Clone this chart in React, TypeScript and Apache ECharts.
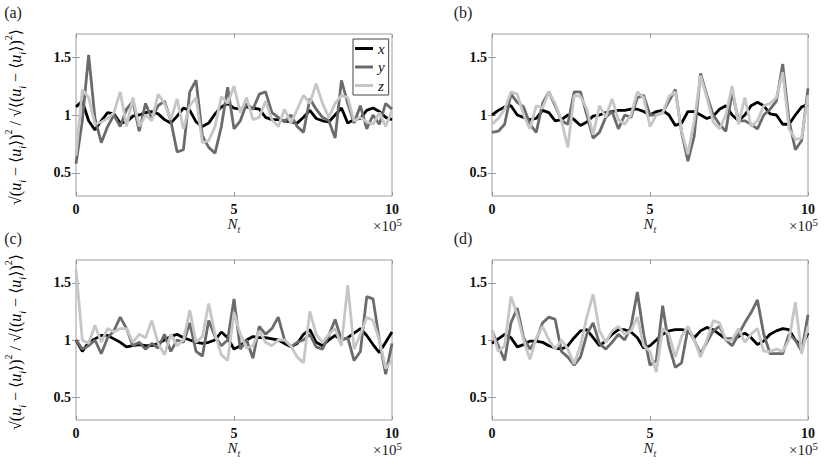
import React, { useEffect, useRef } from "react";
import * as echarts from "echarts";

// N_t sample positions (×10^5)
const NT = [
  0, 0.2, 0.4, 0.6, 0.8, 1.0, 1.2, 1.4, 1.6, 1.8,
  2.0, 2.2, 2.4, 2.6, 2.8, 3.0, 3.2, 3.4, 3.6, 3.8,
  4.0, 4.2, 4.4, 4.6, 4.8, 5.0, 5.2, 5.4, 5.6, 5.8,
  6.0, 6.2, 6.4, 6.6, 6.8, 7.0, 7.2, 7.4, 7.6, 7.8,
  8.0, 8.2, 8.4, 8.6, 8.8, 9.0, 9.2, 9.4, 9.6, 9.8,
  10,
];

// Panel (a)
const A_X = [
  1.07, 1.12, 0.95, 0.87, 0.95, 1.02, 1.01, 0.93, 0.94, 0.99,
  1.0, 1.02, 1.03, 1.01, 0.96, 0.93, 0.99, 1.06, 1.04, 0.94,
  0.9, 0.93, 1.01, 1.07, 1.1, 1.06, 1.05, 1.07, 1.06, 1.05,
  0.98, 0.96, 0.96, 0.95, 0.94, 0.93, 0.98, 1.04, 0.97, 0.95,
  0.94, 1.0, 1.06, 0.93, 0.96, 0.97, 1.04, 1.06, 1.03, 0.98,
  0.96,
];
const A_Y = [
  0.58, 0.95, 1.52, 0.97, 0.76, 0.9, 1.0, 0.9, 1.05, 1.12,
  0.86, 1.1, 0.97, 1.08, 1.12, 0.95, 0.68, 0.7, 1.2, 1.3,
  0.82, 0.72, 0.67, 0.9, 1.24, 0.88, 0.95, 1.1, 1.05, 1.18,
  1.2, 1.02, 0.98, 0.94, 1.0, 0.9, 0.85, 1.14, 1.05, 0.98,
  0.95, 0.8, 1.3, 1.1, 0.93, 1.08, 0.88, 1.0, 0.92, 1.1,
  1.05,
];
const A_Z = [
  0.65, 1.22, 1.15, 0.92, 0.94, 0.97, 1.02, 1.2, 0.9, 1.15,
  0.9, 1.0, 0.95, 1.18, 1.1, 0.96, 1.14, 0.88, 1.08, 1.15,
  0.76, 0.78, 0.9, 1.16, 1.1, 1.25, 1.02, 1.15, 0.96, 0.98,
  1.12, 0.96, 0.9, 1.05, 0.93, 1.05, 1.17, 1.1, 1.27, 1.1,
  0.98, 1.1, 1.17, 1.15, 0.95, 0.98, 0.94, 0.92, 1.02, 0.9,
  1.04,
];

// Panel (b)
const B_X = [
  1.0, 1.04, 1.07, 1.08, 1.0, 0.98, 0.96, 0.97, 1.04, 1.02,
  0.95, 0.96, 1.0, 0.96, 0.91, 0.94, 0.99, 1.0, 1.02, 1.03,
  1.04, 1.04, 1.05, 1.05, 1.03, 1.0, 1.03, 1.04, 1.0, 0.91,
  0.93, 1.03, 1.03, 1.0, 0.97, 0.99, 1.05, 1.08, 1.0, 0.95,
  1.0, 1.08, 1.11, 1.08, 1.01, 1.0, 0.92, 0.92, 1.0, 1.07,
  1.09,
];
const B_Y = [
  0.85, 0.86, 0.92, 1.18, 1.11, 1.07, 0.92, 0.85, 1.1, 1.2,
  1.08, 0.95, 0.92, 1.2, 1.2, 1.0, 0.8, 0.85, 0.98, 1.03,
  0.88, 1.0, 0.98, 1.15, 1.17, 1.0, 1.0, 1.02, 1.12, 1.22,
  0.85, 0.6, 0.82, 1.36, 1.17, 1.0, 0.92, 0.86, 1.2, 0.95,
  0.95, 0.92, 0.88, 1.0, 1.05, 1.12, 1.44, 0.95, 0.7, 0.78,
  1.23,
];
const B_Z = [
  0.92, 0.97, 1.05, 1.2, 1.18, 1.0, 0.88, 1.08, 1.06, 1.2,
  1.1, 0.95, 0.72, 1.17, 1.16, 1.05, 0.83, 1.08, 0.98, 1.14,
  0.96, 0.92, 1.0, 1.2, 1.15, 0.9, 1.0, 1.02, 1.16, 1.2,
  0.86, 0.66, 0.95, 1.34, 1.15, 0.94, 0.88, 1.0, 1.25, 0.92,
  1.15, 0.9, 0.95, 1.08, 1.1, 1.15, 1.37, 0.88, 0.79, 0.8,
  1.17,
];

// Panel (c)
const C_X = [
  1.0, 0.9, 0.98, 1.01, 1.04, 1.04, 1.01, 0.98, 0.94, 0.95,
  0.96, 0.95, 0.95, 0.97, 1.0, 1.03, 1.05, 1.02, 1.0, 0.98,
  0.97, 0.98, 1.0, 1.07, 1.02, 0.92, 0.95, 1.0, 1.03, 1.02,
  1.02, 1.01, 1.0, 0.97, 0.94, 0.97, 1.05, 1.09, 0.98, 0.95,
  1.0, 1.04, 1.0, 1.02, 1.06, 1.1, 1.04, 0.96, 0.89, 0.98,
  1.07,
];
const C_Y = [
  1.0, 0.92, 0.95, 1.0, 0.88, 1.02, 1.08, 1.2, 1.1, 0.95,
  0.98, 0.92, 0.97, 0.93, 1.05, 0.9, 1.0, 0.98, 1.15, 0.9,
  0.86, 1.17, 1.03, 0.95, 1.0, 1.36, 0.92, 1.0, 0.84, 1.12,
  1.05, 1.1, 1.2, 1.0, 0.94, 0.98, 1.0, 1.05, 0.94, 0.92,
  1.04, 1.18, 1.0, 1.02, 0.82, 0.9, 1.38, 1.36, 1.0, 0.7,
  0.97,
];
const C_Z = [
  1.62, 1.0, 0.97, 1.13, 0.98, 1.1, 1.07, 1.1, 1.1, 0.98,
  1.05, 1.02, 1.17, 0.97, 0.87, 1.05, 0.95, 1.0, 1.26, 0.98,
  1.03, 1.32, 1.05, 0.87, 0.82, 1.24, 1.05, 0.93, 0.95, 1.08,
  0.98, 0.95, 1.0, 1.0, 0.95, 0.85, 0.8, 1.25, 1.05, 0.98,
  1.05, 1.1, 0.95, 1.48, 0.92, 1.05, 1.2, 1.17, 1.0, 0.75,
  0.82,
];

// Panel (d)
const D_X = [
  0.97, 1.01, 1.05, 1.02, 0.94, 0.96, 0.99, 0.99, 0.98, 0.95,
  0.93, 0.92, 0.95, 1.02, 1.08, 1.09, 1.02, 0.95, 0.99, 1.05,
  1.09, 1.09, 1.07, 1.02, 0.93, 0.95, 1.0, 1.05, 1.08, 1.09,
  1.09, 1.08, 1.02, 1.08, 1.11, 1.09, 1.05, 1.01, 1.01, 1.03,
  1.06, 1.02, 0.96, 0.99, 1.05, 1.08, 1.1, 1.09, 1.0, 0.95,
  1.06,
];
const D_Y = [
  1.08, 0.95, 0.82, 1.15, 1.28, 1.02, 0.92, 1.0, 1.15, 1.2,
  1.18, 0.9, 0.85, 0.78, 0.85, 1.05, 1.15, 0.97, 0.92, 0.98,
  1.05, 1.0, 1.12, 1.42, 1.05, 0.78, 0.82, 1.3, 0.95, 0.76,
  0.8, 1.1, 1.0, 0.88, 0.98, 1.08, 1.12, 1.0, 0.95, 1.05,
  1.15, 1.24, 1.35, 1.05, 0.88, 0.88, 0.88, 1.05, 1.0, 0.9,
  1.22,
];
const D_Z = [
  1.08, 0.9, 0.95, 1.38, 1.22, 1.0, 0.83, 1.02, 1.12, 1.0,
  0.92, 1.0, 0.92, 0.79, 0.95, 1.2, 1.4, 1.08, 0.98, 1.08,
  1.12, 1.05, 1.08, 1.2, 0.95, 0.9, 0.72, 1.1, 1.05, 0.85,
  1.03, 1.12, 1.0, 0.85, 1.0, 1.17, 1.15, 1.0, 1.0, 1.1,
  0.98, 1.05, 1.1, 0.9, 0.9, 0.92, 0.9, 1.0, 1.33, 0.88,
  1.12,
];

const SERIES_NAMES = ["x", "y", "z"];
const Y_TICKS = [0.5, 1, 1.5];
const PANEL_LABELS = ["(a)", "(b)", "(c)", "(d)"];

const PANELS = [
  [A_X, A_Y, A_Z],
  [B_X, B_Y, B_Z],
  [C_X, C_Y, C_Z],
  [D_X, D_Y, D_Z],
];

const GRIDS = [
  { left: 76, top: 34, width: 316, height: 162 },
  { left: 492, top: 34, width: 316, height: 162 },
  { left: 76, top: 260, width: 316, height: 160 },
  { left: 492, top: 260, width: 316, height: 160 },
];

const COLORS = ["#000000", "#6b6b6b", "#c6c6c6"];
const FRAME = "#9c9c9c";
const SERIF = "'Liberation Serif', 'DejaVu Serif', serif";

export default function App() {
  const ref = useRef<HTMLDivElement>(null);

  useEffect(() => {
    document.body.style.margin = "0";
    if (!ref.current) return;
    const chart = echarts.init(ref.current, null, { renderer: "svg" });

    const tickLabel = {
      fontFamily: SERIF,
      fontWeight: "bold" as const,
      fontSize: 14,
      color: "#111111",
    };

    const xAxes: any[] = [];
    const yAxes: any[] = [];
    GRIDS.forEach((_, i) => {
      xAxes.push({
        gridIndex: i,
        type: "value",
        min: 0,
        max: 10,
        interval: 5,
        axisLine: { show: false },
        axisTick: { inside: true, length: 4, lineStyle: { color: FRAME } },
        splitLine: { show: false },
        axisLabel: { ...tickLabel, margin: 6 },
        name: "{n|N}{s|t}",
        nameLocation: "middle",
        nameGap: 17,
        nameTextStyle: {
          rich: {
            n: { fontFamily: SERIF, fontStyle: "italic", fontSize: 15, color: "#222", lineHeight: 20, verticalAlign: "middle" },
            s: { fontFamily: SERIF, fontStyle: "italic", fontSize: 10, color: "#222", lineHeight: 20, verticalAlign: "bottom" },
          },
        },
      });
      yAxes.push({
        gridIndex: i,
        type: "value",
        min: 0.3,
        max: 1.7,
        axisLine: { show: false },
        axisTick: { inside: true, length: 4, customValues: Y_TICKS, lineStyle: { color: FRAME } },
        splitLine: { show: false },
        axisLabel: { ...tickLabel, margin: 5, customValues: Y_TICKS },
      });
    });
    GRIDS.forEach((_, i) => {
      xAxes.push({
        gridIndex: i,
        type: "value",
        position: "top",
        min: 0,
        max: 10,
        interval: 5,
        axisLine: { show: false },
        axisTick: { inside: true, length: 4, lineStyle: { color: FRAME } },
        splitLine: { show: false },
        axisLabel: { show: false },
      });
      yAxes.push({
        gridIndex: i,
        type: "value",
        position: "right",
        min: 0.3,
        max: 1.7,
        axisLine: { show: false },
        axisTick: { inside: true, length: 4, customValues: Y_TICKS, lineStyle: { color: FRAME } },
        splitLine: { show: false },
        axisLabel: { show: false },
      });
    });

    const series: any[] = [];
    PANELS.forEach((panel, i) => {
      panel.forEach((vals, k) => {
        series.push({
          type: "line",
          name: SERIES_NAMES[k],
          xAxisIndex: i,
          yAxisIndex: i,
          data: NT.map((t, j) => [t, vals[j]]),
          showSymbol: false,
          symbol: "none",
          clip: true,
          lineStyle: { width: 2.8, color: COLORS[k] },
          itemStyle: { color: COLORS[k] },
          z: 2 + k,
        });
      });
    });

    const yLabelRich = {
      m: { fontFamily: SERIF, fontSize: 16, color: "#222", lineHeight: 24, verticalAlign: "middle" },
      u: { fontFamily: SERIF, fontStyle: "italic", fontSize: 16, color: "#222", lineHeight: 24, verticalAlign: "middle" },
      s: { fontFamily: SERIF, fontStyle: "italic", fontSize: 10, color: "#222", lineHeight: 24, verticalAlign: "bottom" },
      p: { fontFamily: SERIF, fontSize: 10, color: "#222", lineHeight: 24, verticalAlign: "top" },
    };
    const yLabelText =
      "{m|√(}{u|u}{s|i}{m| − ⟨}{u|u}{s|i}{m|⟩)}{p|2}{m| / √⟨(}{u|u}{s|i}{m| − ⟨}{u|u}{s|i}{m|⟩)}{p|2}{m|⟩}";

    const graphics: any[] = [];
    GRIDS.forEach((g, i) => {
      graphics.push({
        type: "text",
        x: i % 2 === 0 ? 13 : 463,
        y: g.top - 22,
        style: {
          text: PANEL_LABELS[i],
          fontFamily: SERIF,
          fontSize: 16,
          fill: "#222",
          align: "center",
          verticalAlign: "middle",
        },
      });
      graphics.push({
        type: "text",
        x: g.left + g.width + 10,
        y: g.top + g.height + 30,
        style: {
          text: "×10{p|5}",
          fontFamily: SERIF,
          fontSize: 15,
          fill: "#222",
          align: "right",
          verticalAlign: "middle",
          rich: {
            p: { fontFamily: SERIF, fontSize: 11, fill: "#222", verticalAlign: "top", lineHeight: 20 },
          },
          lineHeight: 20,
        },
      });
      if (i % 2 === 0) {
        graphics.push({
          type: "text",
          x: 15,
          y: g.top + g.height / 2 + 2,
          rotation: Math.PI / 2,
          style: {
            text: yLabelText,
            rich: yLabelRich,
            align: "center",
            verticalAlign: "middle",
          },
        });
      }
    });

    chart.setOption({
      animation: false,
      backgroundColor: "#ffffff",
      grid: GRIDS.map((g) => ({
        ...g,
        show: true,
        borderColor: FRAME,
        borderWidth: 1,
        backgroundColor: "#ffffff",
      })),
      xAxis: xAxes,
      yAxis: yAxes,
      legend: {
        data: SERIES_NAMES,
        left: 353,
        top: 39,
        orient: "vertical",
        icon: "rect",
        itemWidth: 18,
        itemHeight: 3,
        itemGap: 3.5,
        padding: [2, 4, 2, 2],
        borderColor: "#444",
        borderWidth: 1,
        backgroundColor: "#ffffff",
        selectedMode: false,
        textStyle: {
          fontFamily: SERIF,
          fontStyle: "italic",
          fontSize: 15,
          lineHeight: 14,
          color: "#111",
        },
      },
      graphic: graphics,
      series,
    });

    return () => {
      chart.dispose();
    };
  }, []);

  return <div ref={ref} style={{ width: 831, height: 464 }} />;
}
